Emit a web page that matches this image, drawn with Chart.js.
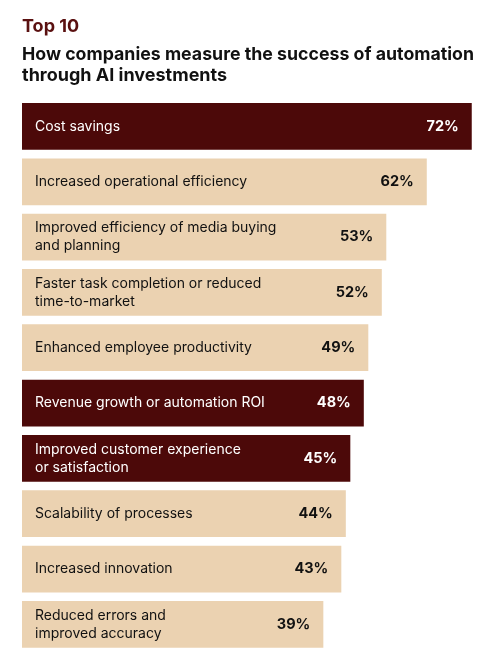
<!DOCTYPE html>
<html>
<head>
<meta charset="utf-8">
<script src="https://cdn.jsdelivr.net/npm/chart.js@4.4.0/dist/chart.umd.min.js"></script>
<style>
  html, body { margin: 0; padding: 0; background: #ffffff; }
  #wrap { width: 500px; height: 668px; }
</style>
</head>
<body>
<div id="wrap"><canvas id="chart" width="500" height="668"></canvas></div>
<script>
// --- Data ---
const categories = [
    ['Cost savings'],
    ['Increased operational efficiency'],
    ['Improved efficiency of media buying', 'and planning'],
    ['Faster task completion or reduced', 'time-to-market'],
    ['Enhanced employee productivity'],
    ['Revenue growth or automation ROI'],
    ['Improved customer experience', 'or satisfaction'],
    ['Scalability of processes'],
    ['Increased innovation'],
    ['Reduced errors and', 'improved accuracy']
];
const shares = [72, 62, 53, 52, 49, 48, 45, 44, 43, 39];
const highlighted = [0, 5, 6];

// Colors
const COLORS = {
    dark: '#4c0909',
    light: '#ebd2b1',
    title: '#5a1010',
    text: '#111111'
};

// axis runs from a value below zero so bar lengths look like the original
const AXIS_MIN = -28;
const AXIS_MAX = 72.5;

const FONT = 'Inter, "Noto Sans", sans-serif';

// --- Labels inside bars ---
const barText = {
    id: 'barText',
    afterDatasetsDraw(chart) {
        const ctx = chart.ctx;
        const meta = chart.getDatasetMeta(0);
        ctx.save();
        meta.data.forEach((bar, i) => {
            const dark = highlighted.includes(i);
            const left = Math.min(bar.x, bar.base);
            const right = Math.max(bar.x, bar.base);
            ctx.fillStyle = dark ? '#ffffff' : COLORS.text;
            ctx.textBaseline = 'middle';

            // category
            ctx.font = '14px ' + FONT;
            ctx.textAlign = 'left';
            const lines = categories[i];
            const lh = 18;
            let y = bar.y - (lines.length - 1) * lh / 2;
            lines.forEach(line => {
                ctx.fillText(line, left + 13, y);
                y += lh;
            });

            // value
            ctx.font = 'bold 14.5px ' + FONT;
            ctx.textAlign = 'right';
            ctx.fillText(shares[i] + '%', right - 13, bar.y);
        });
        ctx.restore();
    }
};

const ctx = document.getElementById('chart').getContext('2d');
new Chart(ctx, {
    type: 'bar',
    data: {
        labels: categories,
        datasets: [{
            data: shares,
            base: AXIS_MIN,
            backgroundColor: (c) => highlighted.includes(c.dataIndex) ? COLORS.dark : COLORS.light,
            borderWidth: 0,
            barPercentage: 0.845,
            categoryPercentage: 1
        }]
    },
    options: {
        indexAxis: 'y',
        responsive: false,
        animation: false,
        layout: {
            padding: { left: 22, right: 26, top: 11, bottom: 16 }
        },
        scales: {
            x: {
                display: false,
                min: AXIS_MIN,
                max: AXIS_MAX
            },
            y: {
                display: false
            }
        },
        plugins: {
            legend: { display: false },
            tooltip: { enabled: false },
            title: {
                display: true,
                text: 'Top 10',
                align: 'start',
                color: COLORS.title,
                font: { family: FONT, size: 18, weight: 'bold', lineHeight: 1.2 },
                padding: { top: 5, bottom: 6 }
            },
            subtitle: {
                display: true,
                text: ['How companies measure the success of automation', 'through AI investments'],
                align: 'start',
                color: COLORS.text,
                font: { family: FONT, size: 18, weight: 'bold', lineHeight: 1.2 },
                padding: { top: 0, bottom: 12 }
            }
        }
    },
    plugins: [barText]
});
</script>
</body>
</html>
